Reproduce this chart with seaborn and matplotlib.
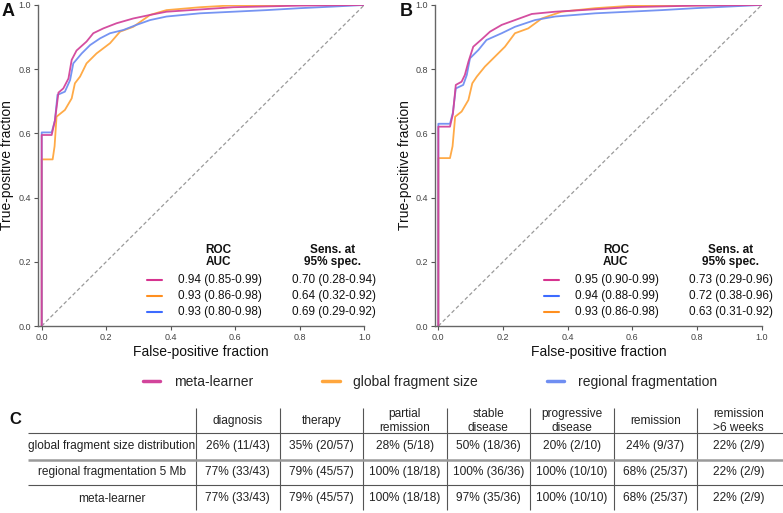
import numpy as np
import pandas as pd
import seaborn as sns
import matplotlib.pyplot as plt
from matplotlib.lines import Line2D

sns.set_theme(style="ticks")
plt.rcParams["font.family"] = ["Liberation Sans", "DejaVu Sans"]

# ---- ROC curves, panel A (fpr, tpr) ----
a_meta_fpr = [0, 0, 0.031, 0.041, 0.052, 0.067, 0.083, 0.093, 0.108, 0.139, 0.160, 0.191, 0.232, 0.284, 0.336, 0.387, 0.491, 0.594, 0.80, 1.0]
a_meta_tpr = [0, 0.595, 0.595, 0.640, 0.727, 0.740, 0.771, 0.829, 0.858, 0.886, 0.912, 0.927, 0.943, 0.958, 0.969, 0.979, 0.986, 0.993, 0.998, 1.0]
a_glob_fpr = [0, 0, 0.034, 0.040, 0.046, 0.072, 0.093, 0.103, 0.119, 0.139, 0.170, 0.212, 0.243, 0.284, 0.336, 0.387, 0.491, 0.594, 1.0]
a_glob_tpr = [0, 0.519, 0.519, 0.560, 0.652, 0.673, 0.709, 0.756, 0.777, 0.818, 0.849, 0.881, 0.917, 0.932, 0.969, 0.984, 0.993, 0.999, 1.0]
a_reg_fpr = [0, 0, 0.031, 0.041, 0.049, 0.072, 0.088, 0.098, 0.124, 0.150, 0.181, 0.212, 0.253, 0.294, 0.336, 0.387, 0.491, 0.594, 0.697, 0.80, 0.904, 1.0]
a_reg_tpr = [0, 0.603, 0.603, 0.640, 0.720, 0.730, 0.766, 0.818, 0.849, 0.875, 0.896, 0.912, 0.922, 0.938, 0.953, 0.964, 0.974, 0.979, 0.984, 0.990, 0.995, 1.0]

# ---- ROC curves, panel B ----
b_meta_fpr = [0, 0, 0.036, 0.045, 0.054, 0.072, 0.082, 0.093, 0.108, 0.134, 0.160, 0.196, 0.237, 0.289, 0.361, 0.443, 0.588, 0.794, 1.0]
b_meta_tpr = [0, 0.621, 0.621, 0.660, 0.751, 0.761, 0.782, 0.823, 0.870, 0.893, 0.917, 0.938, 0.953, 0.972, 0.979, 0.984, 0.993, 0.998, 1.0]
b_glob_fpr = [0, 0, 0.036, 0.044, 0.052, 0.072, 0.093, 0.105, 0.119, 0.144, 0.175, 0.206, 0.237, 0.278, 0.320, 0.381, 0.485, 0.588, 1.0]
b_glob_tpr = [0, 0.523, 0.523, 0.560, 0.652, 0.668, 0.704, 0.756, 0.777, 0.808, 0.839, 0.870, 0.912, 0.927, 0.958, 0.979, 0.990, 0.997, 1.0]
b_reg_fpr = [0, 0, 0.036, 0.045, 0.054, 0.077, 0.088, 0.098, 0.124, 0.149, 0.196, 0.237, 0.299, 0.361, 0.485, 0.588, 0.691, 0.794, 1.0]
b_reg_tpr = [0, 0.630, 0.630, 0.665, 0.740, 0.751, 0.782, 0.834, 0.860, 0.891, 0.912, 0.932, 0.953, 0.964, 0.974, 0.979, 0.984, 0.990, 1.0]

# ---- in-panel statistics ----
a_rows = ["meta", "glob", "reg"]
a_auc = ["0.94 (0.85-0.99)", "0.93 (0.86-0.98)", "0.93 (0.80-0.98)"]
a_sens = ["0.70 (0.28-0.94)", "0.64 (0.32-0.92)", "0.69 (0.29-0.92)"]
b_rows = ["meta", "reg", "glob"]
b_auc = ["0.95 (0.90-0.99)", "0.94 (0.88-0.99)", "0.93 (0.86-0.98)"]
b_sens = ["0.73 (0.29-0.96)", "0.72 (0.38-0.96)", "0.63 (0.31-0.92)"]

# ---- table C ----
tab_cols = ["diagnosis", "therapy", "partial\nremission", "stable\ndisease",
            "progressive\ndisease", "remission", "remission\n>6 weeks"]
tab_rows = ["global fragment size distribution", "regional fragmentation 5 Mb", "meta-learner"]
tab_glob = ["26% (11/43)", "35% (20/57)", "28% (5/18)", "50% (18/36)", "20% (2/10)", "24% (9/37)", "22% (2/9)"]
tab_reg = ["77% (33/43)", "79% (45/57)", "100% (18/18)", "100% (36/36)", "100% (10/10)", "68% (25/37)", "22% (2/9)"]
tab_meta = ["77% (33/43)", "79% (45/57)", "100% (18/18)", "97% (35/36)", "100% (10/10)", "68% (25/37)", "22% (2/9)"]

colors = {"meta": "#D2449B", "glob": "#FFA63D", "reg": "#6F8EF2"}
key_colors = {"meta": "#D6338F", "glob": "#FF8F1F", "reg": "#3D6BFF"}
legend_names = {"meta": "meta-learner", "glob": "global fragment size", "reg": "regional fragmentation"}

fig = plt.figure(figsize=(7.83, 5.13), dpi=100)
ax_a = fig.add_axes([0.0485, 0.3645, 0.4167, 0.6258])
ax_b = fig.add_axes([0.5556, 0.3645, 0.4172, 0.6258])


def roc_panel(ax, curves, rows, auc, sens, xmin, letter, letter_x):
    ax.plot([0, 1], [0, 1], ls=(0, (3, 2)), color="#9a9a9a", lw=0.9, zorder=1)
    for key, fpr, tpr in curves:
        df = pd.DataFrame({"fpr": fpr, "tpr": tpr})
        sns.lineplot(data=df, x="fpr", y="tpr", ax=ax, color=colors[key], lw=1.3,
                     estimator=None, sort=False, alpha=0.95)
    ax.set_xlim(xmin, 1.0)
    ax.set_ylim(0, 1.0)
    ax.set_xticks([0, 0.2, 0.4, 0.6, 0.8, 1.0])
    ax.set_yticks([0, 0.2, 0.4, 0.6, 0.8, 1.0])
    ax.set_xticklabels(["0.0", "0.2", "0.4", "0.6", "0.8", "1.0"])
    ax.set_yticklabels(["0.0", "0.2", "0.4", "0.6", "0.8", "1.0"])
    ax.tick_params(labelsize=6.5, colors="#555555", labelcolor="#444444", length=3, width=0.8, pad=2)
    for s in ["top", "right"]:
        ax.spines[s].set_visible(False)
    for s in ["left", "bottom"]:
        ax.spines[s].set_color("#666666")
        ax.spines[s].set_linewidth(1.0)
    ax.set_xlabel("False-positive fraction", fontsize=10, color="#111111")
    ax.set_ylabel("True-positive fraction", fontsize=10, color="#111111")
    ax.xaxis.set_label_coords(0.5, -0.058)
    ax.yaxis.set_label_coords(-0.072, 0.5)

    # statistics key inside the panel
    ax.text(0.549, 0.218, "ROC\nAUC", ha="center", va="center", fontsize=8.5,
            fontweight="bold", linespacing=1.05, color="#111111")
    ax.text(0.903, 0.218, "Sens. at\n95% spec.", ha="center", va="center", fontsize=8.5,
            fontweight="bold", linespacing=1.05, color="#111111")
    for i, key in enumerate(rows):
        yy = [0.143, 0.093, 0.044][i]
        ax.add_line(Line2D([0.326, 0.372], [yy, yy], color=key_colors[key], lw=1.5))
        ax.text(0.4225, yy, auc[i], ha="left", va="center", fontsize=8.5, color="#111111")
        ax.text(0.776, yy, sens[i], ha="left", va="center", fontsize=8.5, color="#111111")
    ax.text(letter_x, 1.005, letter, transform=ax.transAxes, fontsize=13, fontweight="bold",
            ha="left", va="top", color="#111111")


roc_panel(ax_a, [("glob", a_glob_fpr, a_glob_tpr), ("reg", a_reg_fpr, a_reg_tpr),
                 ("meta", a_meta_fpr, a_meta_tpr)], a_rows, a_auc, a_sens, -0.0115, "A", -0.112)
roc_panel(ax_b, [("glob", b_glob_fpr, b_glob_tpr), ("reg", b_reg_fpr, b_reg_tpr),
                 ("meta", b_meta_fpr, b_meta_tpr)], b_rows, b_auc, b_sens, -0.0102, "B", -0.108)

# shared legend
handles = [Line2D([], [], color=colors[k], lw=2.5) for k in ["meta", "glob", "reg"]]
fig.legend(handles, [legend_names[k] for k in ["meta", "glob", "reg"]],
           loc="center", bbox_to_anchor=(0.549, 0.255), ncol=3, frameon=False,
           fontsize=10, handlelength=1.25, handletextpad=0.95, columnspacing=5.0)

# ---- table C ----
tx = fig.add_axes([0, 0, 1, (513 - 395) / 513])
tx.set_xlim(0, 783)
tx.set_ylim(513, 395)
tx.axis("off")
col_edges = np.linspace(196, 780.5, len(tab_cols) + 1)
centers = (col_edges[:-1] + col_edges[1:]) / 2
line_c = "#555555"
tx.vlines(col_edges[:-1], 408, 510, color=line_c, lw=0.8)
tx.hlines([433, 485], 28, 783, color=line_c, lw=0.8)
tx.hlines(460, 28, 783, color="#9a9a9a", lw=1.8)
tfs = 8.6
for c, lab in zip(centers, tab_cols):
    tx.text(c, 421, lab, ha="center", va="center", fontsize=tfs, linespacing=1.2, color="#222222")
for ry, rlab, vals in zip([446.5, 472.5, 498.5], tab_rows, [tab_glob, tab_reg, tab_meta]):
    tx.text(112, ry, rlab, ha="center", va="center", fontsize=tfs, color="#222222")
    for c, v in zip(centers, vals):
        tx.text(c, ry, v, ha="center", va="center", fontsize=tfs, color="#222222")
tx.text(9, 420, "C", ha="left", va="center", fontsize=12, fontweight="bold", color="#111111")

fig.savefig("out.png", dpi=100)
